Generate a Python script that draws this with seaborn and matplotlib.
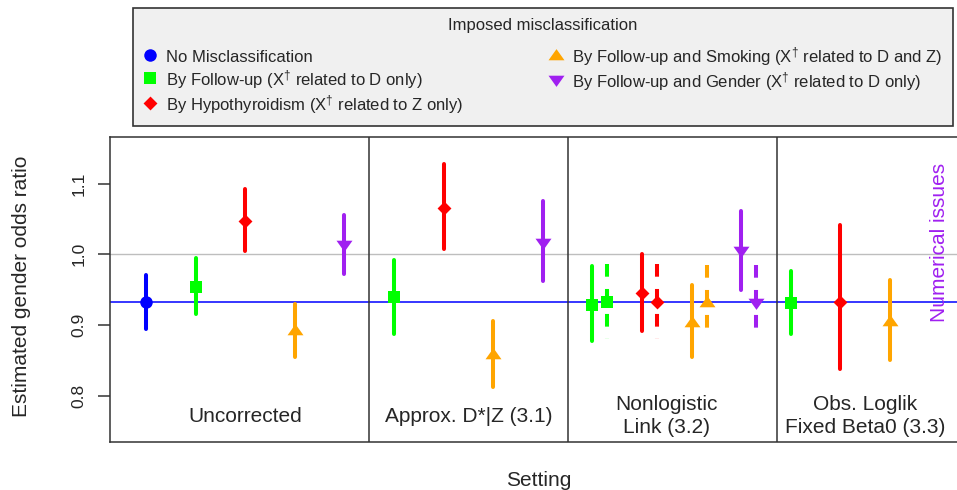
import pandas as pd
import matplotlib.pyplot as plt
from matplotlib.lines import Line2D
import seaborn as sns

sns.set_theme(style="white")
plt.rcParams["font.family"] = ["Liberation Sans", "DejaVu Sans"]
plt.rcParams["mathtext.fontset"] = "custom"
plt.rcParams["mathtext.rm"] = "Liberation Sans"
plt.rcParams["mathtext.it"] = "Liberation Sans:italic"

# ── Data ──
settings = ["Uncorrected", "Approx. D*|Z (3.1)",
            "Nonlogistic\nLink (3.2)", "Obs. Loglik\nFixed Beta0 (3.3)"]
scenarios = ["none", "followup", "hypo", "smoking", "gender"]
legend_labels = [
    "No Misclassification",
    "By Follow-up (X$^{\u2020}$ related to D only)",
    "By Hypothyroidism (X$^{\u2020}$ related to Z only)",
    "By Follow-up and Smoking (X$^{\u2020}$ related to D and Z)",
    "By Follow-up and Gender (X$^{\u2020}$ related to D only)",
]

# Uncorrected: all five scenarios
unc_est = [0.932, 0.954, 1.047, 0.893, 1.013]
unc_lo = [0.895, 0.915, 1.005, 0.855, 0.972]
unc_hi = [0.971, 0.995, 1.092, 0.930, 1.056]
# Approx. D*|Z: followup, hypo, smoking, gender
apx_est = [0.940, 1.065, 0.859, 1.016]
apx_lo = [0.887, 1.007, 0.812, 0.962]
apx_hi = [0.992, 1.128, 0.906, 1.075]
# Nonlogistic link, solid estimates
nl_est = [0.928, 0.946, 0.905, 1.005]
nl_lo = [0.878, 0.892, 0.855, 0.950]
nl_hi = [0.983, 1.001, 0.957, 1.061]
# Nonlogistic link, dashed estimates
nld_est = [0.932, 0.932, 0.933, 0.931]
nld_lo = [0.881, 0.880, 0.881, 0.881]
nld_hi = [0.986, 0.987, 0.985, 0.985]
# Obs. loglik fixed beta0: followup, hypo, smoking (gender failed)
obs_est = [0.931, 0.933, 0.906, None]
obs_lo = [0.887, 0.838, 0.851, None]
obs_hi = [0.976, 1.042, 0.964, None]

# ── Styles ──
colors = {"none": "#0000FF", "followup": "#00FF00", "hypo": "#FF0000",
          "smoking": "#FFA500", "gender": "#A020F0"}
markers = {"none": "o",
           "followup": [(-1, -1), (1, -1), (1, 1), (-1, 1)],
           "hypo": [(0, 1), (1, 0), (0, -1), (-1, 0)],
           "smoking": [(-1, -0.6), (1, -0.6), (0, 0.8)],
           "gender": [(-1, 0.6), (1, 0.6), (0, -0.8)]}
msizes = {"none": 9, "followup": 8, "hypo": 10, "smoking": 11.5, "gender": 11.5}

# ── Long table with slot positions ──
rows = []
blocks = [
    (0, scenarios, [("solid", unc_est, unc_lo, unc_hi)]),
    (1, scenarios[1:], [("solid", apx_est, apx_lo, apx_hi)]),
    (2, scenarios[1:], [("solid", nl_est, nl_lo, nl_hi),
                        ("dashed", nld_est, nld_lo, nld_hi)]),
    (3, scenarios[1:], [("solid", obs_est, obs_lo, obs_hi)]),
]
slot = 0
slot_x = {}
for si, scs, series in blocks:
    for j, sc in enumerate(scs):
        slot += 1
        slot_x.setdefault(si, []).append(slot)
        for variant, est, lo, hi in series:
            if est[j] is None:
                continue
            rows.append(dict(setting=si, scenario=sc, variant=variant,
                             x=slot + (0.3 if variant == "dashed" else 0.0),
                             est=est[j], lo=lo[j], hi=hi[j]))
df = pd.DataFrame(rows)

fig = plt.figure(figsize=(9.57, 4.9), dpi=100)
ax = fig.add_axes([110 / 957, 48.3 / 490, 1 - 110 / 957, 304.7 / 490])

# reference lines
ax.axhline(1.0, color="#BEBEBE", linewidth=1.0, zorder=1)
ax.axhline(unc_est[0], color="#0000FF", linewidth=1.1, zorder=1)

# panel dividers
for xd in [5.5, 9.5, 13.73]:
    ax.axvline(xd, color="#333333", linewidth=1.1, zorder=1)

# error bars (drawn top to bottom so the dash pattern starts at the top)
for variant, ls, cap in [("solid", "solid", "round"),
                         ("dashed", (0, (3.15, 3.05)), "butt")]:
    sub = df[df["variant"] == variant]
    lc = ax.vlines(sub["x"], sub["hi"], sub["lo"],
                   colors=[colors[s] for s in sub["scenario"]],
                   linewidth=2.9, linestyles=ls, zorder=2)
    lc.set_capstyle(cap)

# point estimates
for sc in scenarios:
    sub = df[df["scenario"] == sc]
    sns.scatterplot(data=sub, x="x", y="est", marker=markers[sc],
                    s=msizes[sc] ** 2, color=colors[sc], linewidth=0,
                    legend=False, ax=ax, zorder=3)

# setting labels
for si, name in enumerate(settings):
    xs = slot_x[si]
    ax.text(sum(xs) / len(xs), 0.7715, name, ha="center", va="center",
            fontsize=15, linespacing=1.3)

ax.text(slot_x[3][-1], 1.017, "Numerical issues", rotation=90,
        color=colors["gender"], ha="center", va="center", fontsize=15)

ax.set_xlim(0.274, 17.35)
ax.set_ylim(0.7353, 1.1657)
ax.set_xticks([])
ax.set_yticks([0.8, 0.9, 1.0, 1.1])
ax.set_yticklabels(["0.8", "0.9", "1.0", "1.1"], rotation=90, va="center")
ax.tick_params(axis="y", left=True, length=9, width=1.1, pad=8,
               labelsize=12.5, color="#333333", direction="out")
ax.set_xlabel("")
ax.set_ylabel("")
for side in ["left", "top", "bottom"]:
    ax.spines[side].set_color("#333333")
    ax.spines[side].set_linewidth(1.1)
ax.spines["right"].set_visible(False)

fig.text(22 / 957, 1 - 286 / 490, "Estimated gender odds ratio",
         rotation=90, ha="center", va="center", fontsize=15)
fig.text(539 / 957, 1 - 480 / 490, "Setting", ha="center", va="center",
         fontsize=15)

# ── Legend ──
handles = [Line2D([], [], linestyle="None", marker=markers[sc],
                  markersize=msizes[sc], color=colors[sc],
                  markeredgewidth=0) for sc in scenarios]
leg = fig.legend(handles, legend_labels, ncol=2, loc="upper left",
                 bbox_to_anchor=(133 / 957, 1 - 7.5 / 490 - 0.2, 820 / 957, 0.2),
                 mode="expand", title="Imposed misclassification",
                 fontsize=12, title_fontsize=12, frameon=True,
                 fancybox=False, edgecolor="#333333", facecolor="#F0F0F0",
                 framealpha=1, borderpad=0.62, labelspacing=0.12,
                 handleheight=1.35, handlelength=0.8, handletextpad=0.56,
                 borderaxespad=0)
leg.get_frame().set_linewidth(1.2)
leg._legend_box.sep = 8.8  # gap between title and entries (points)

fig.savefig("out.png", dpi=100)
